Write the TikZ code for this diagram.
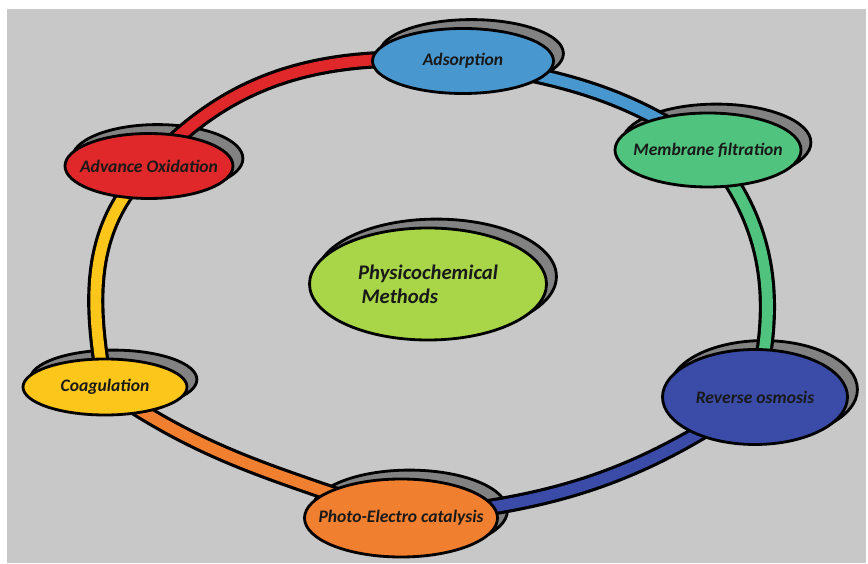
\documentclass[tikz,border=0pt]{standalone}
\usepackage{fontspec}
\setmainfont{Carlito}
\usetikzlibrary{positioning,shapes,calc,backgrounds}

\definecolor{bggray}{RGB}{199,200,199}
\definecolor{shadegray}{RGB}{130,130,130}
\definecolor{adscol}{RGB}{72,151,206}
\definecolor{memcol}{RGB}{80,196,126}
\definecolor{revcol}{RGB}{58,76,168}
\definecolor{phocol}{RGB}{240,128,48}
\definecolor{coacol}{RGB}{252,198,26}
\definecolor{advcol}{RGB}{224,40,42}
\definecolor{phycol}{RGB}{168,214,72}

\tikzstyle{method} = [ellipse, draw=black, line width=1.6pt, inner sep=0pt, inner xsep=-0.6cm, text=black!90, font=\fontsize{10}{12}\selectfont\bfseries\itshape]
\tikzstyle{shadowell} = [fill=shadegray, draw=black, line width=1.6pt]
\tikzstyle{ringband} = [draw=black, line width=1.8pt, double distance=6.2pt]

\begin{document}
\begin{tikzpicture}
  \useasboundingbox (0,0) rectangle (17.36,11.26);
  % centre
  \node (phy) [method, fill=phycol, minimum width=4.74cm, minimum height=2.24cm, align=left, font=\fontsize{11.8}{13.5}\selectfont\bfseries\itshape] at (8.56,5.58) {Physicochemical\\\,Methods};
  % methods round the ring
  \node (ads) [method, fill=adscol, minimum width=3.62cm, minimum height=1.30cm] at (9.26,10.04) {Adsorption};
  \node (mem) [method, fill=memcol, minimum width=3.72cm, minimum height=1.48cm] at (14.16,8.26) {Membrane filtration};
  \node (rev) [method, fill=revcol, minimum width=3.70cm, minimum height=1.90cm] at (15.10,3.32) {Reverse osmosis};
  \node (pho) [method, fill=phocol, minimum width=3.86cm, minimum height=1.56cm] at (8.02,0.90) {Photo-Electro catalysis};
  \node (coa) [method, fill=coacol, minimum width=3.28cm, minimum height=1.12cm] at (2.10,3.52) {Coagulation};
  \node (adv) [method, fill=advcol, minimum width=3.36cm, minimum height=1.30cm] at (2.98,7.94) {Advance Oxidation};

  \begin{pgfonlayer}{background}
    \fill[bggray] (0.14,0) rectangle (17.32,11.08);
    % shadows
    \foreach \nm in {phy,ads,mem,rev,pho,coa,adv}
      \draw[shadowell] let \p1=(\nm.center), \p2=(\nm.east), \p3=(\nm.north) in
        ([xshift=0.17cm,yshift=0.15cm]\nm.center) ellipse [x radius={\x2-\x1}, y radius={\y3-\y1}];
    % ring
    \draw[ringband, double=advcol] (adv.center) to[out=48,in=176] (ads.center);
    \draw[ringband, double=adscol] (ads.center) to[out=-10,in=145] (mem.center);
    \draw[ringband, double=memcol] (mem.center) to[out=-50,in=76] (rev.center);
    \draw[ringband, double=revcol] (rev.center) to[out=-145,in=5] (pho.center);
    \draw[ringband, double=phocol] (pho.center) to[out=160,in=-35] (coa.center);
    \draw[ringband, double=coacol] (coa.center) to[out=100,in=225] (adv.center);
  \end{pgfonlayer}
\end{tikzpicture}
\end{document}
